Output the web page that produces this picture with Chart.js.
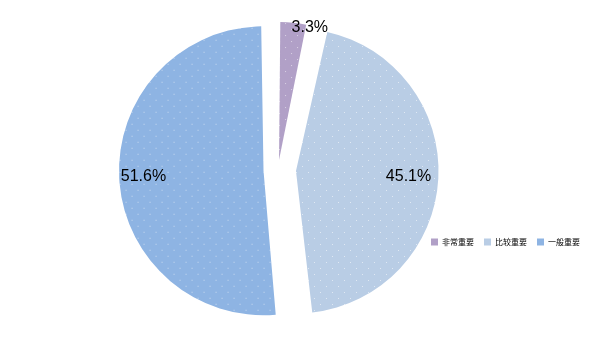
<!DOCTYPE html>
<html>
<head>
<meta charset="utf-8">
<script src="https://cdn.jsdelivr.net/npm/chart.js@4.4.1/dist/chart.umd.min.js"></script>
<style>
  html, body { margin: 0; padding: 0; background: #ffffff; }
  #wrap { width: 605px; height: 340px; position: relative; }
</style>
</head>
<body>
<div id="wrap"><canvas id="c" width="605" height="340"></canvas></div>
<script>
// ---- data ----
const categories = ["非常重要", "比较重要", "一般重要"];
const shares = [3.3, 45.1, 51.6];

// ---- style ----
const sliceColors = ["#B1A0C7", "#B9CDE5", "#8EB4E3"];
const sliceOffsets = [40, 72, 58];
const labelFrac = [1.1, 0.5, 0.5];
const labelDist = [1.046, 0.867, 0.925];

function makePattern(base) {
  const t = document.createElement('canvas');
  t.width = 12; t.height = 12;
  const g = t.getContext('2d');
  g.fillStyle = base; g.fillRect(0, 0, 12, 12);
  g.fillStyle = 'rgba(255,255,255,0.55)';
  g.fillRect(2, 3, 1, 1);
  g.fillRect(8, 9, 1, 1);
  return g.createPattern(t, 'repeat');
}

const sliceLabels = {
  id: 'sliceLabels',
  afterDatasetsDraw(chart) {
    const ctx = chart.ctx;
    const meta = chart.getDatasetMeta(0);
    ctx.save();
    ctx.font = '16px "Liberation Sans", Arial, sans-serif';
    ctx.fillStyle = '#000000';
    ctx.textAlign = 'center';
    ctx.textBaseline = 'middle';
    meta.data.forEach((arc, i) => {
      const p = arc.getProps(['x', 'y', 'startAngle', 'endAngle', 'outerRadius'], true);
      const mid = (p.startAngle + p.endAngle) / 2;
      const off = (arc.options.offset || 0) / 4;
      const ax = p.x + Math.cos(mid) * off;
      const ay = p.y + Math.sin(mid) * off;
      const ang = p.startAngle + (p.endAngle - p.startAngle) * labelFrac[i];
      const r = p.outerRadius * labelDist[i];
      ctx.fillText(shares[i].toFixed(1) + '%', ax + Math.cos(ang) * r, ay + Math.sin(ang) * r);
    });
    ctx.restore();
  }
};

const legendMover = {
  id: 'legendMover',
  afterLayout(chart) {
    const lg = chart.legend;
    if (!lg) return;
    const h = lg.bottom - lg.top;
    lg.top = 242 - 10 - 4;
    lg.bottom = lg.top + h;
    lg.right = 590;
  }
};

new Chart(document.getElementById('c'), {
  type: 'pie',
  data: {
    labels: categories,
    datasets: [{
      data: shares,
      backgroundColor: sliceColors.map(makePattern),
      borderWidth: 0,
      offset: sliceOffsets,
      radius: 130,
      clip: false
    }]
  },
  options: {
    responsive: false,
    animation: false,
    events: [],
    layout: { padding: { left: 0, right: 49, top: 58, bottom: 30 } },
    plugins: {
      tooltip: { enabled: false },
      legend: {
        position: 'bottom',
        align: 'end',
        labels: {
          boxWidth: 7,
          boxHeight: 7,
          padding: 10,
          color: '#595959',
          font: { family: '"Noto Sans CJK SC", sans-serif', size: 8 },
          generateLabels(chart) {
            return categories.map((c, i) => ({
              text: c,
              fillStyle: sliceColors[i],
              strokeStyle: sliceColors[i],
              lineWidth: 0,
              hidden: false,
              index: i
            }));
          }
        }
      }
    }
  },
  plugins: [sliceLabels, legendMover]
});
</script>
</body>
</html>
